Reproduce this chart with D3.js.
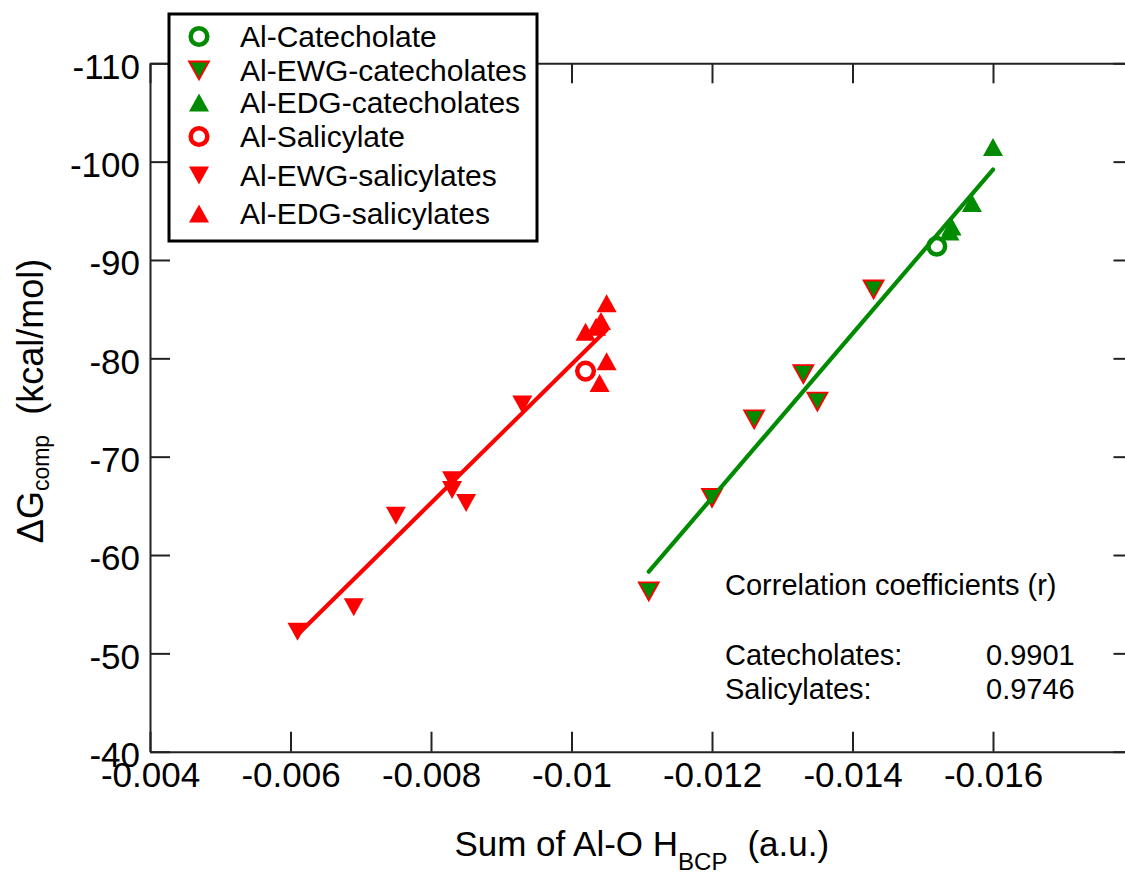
<!DOCTYPE html>
<html>
<head>
<meta charset="utf-8">
<script src="https://cdn.jsdelivr.net/npm/d3@7/dist/d3.min.js"></script>
<style>
  html, body { margin: 0; padding: 0; background: #fff; }
  svg { display: block; font-family: "Liberation Sans", Arial, Helvetica, sans-serif; }
</style>
</head>
<body>
<svg id="chart" width="1125" height="873"></svg>
<script>
// ---- data: x = sum of Al-O H_BCP (a.u.), y = ΔG_comp (kcal/mol) ----
const catX = [-0.0152];
const catY = [-91.4];

const ewgCatX = [-0.0111, -0.0120, -0.0126, -0.0133, -0.0135, -0.0143];
const ewgCatY = [-56.3, -65.8, -73.8, -78.4, -75.6, -87.0];

const edgCatX = [-0.01538, -0.01541, -0.0157, -0.0160];
const edgCatY = [-92.9, -93.4, -95.8, -101.5];

const salX = [-0.0102];
const salY = [-78.7];

const ewgSalX = [-0.0061, -0.0069, -0.0075, -0.0083, -0.0083, -0.0085, -0.0093];
const ewgSalY = [-52.2, -54.7, -64.0, -66.6, -67.6, -65.3, -75.3];

const edgSalX = [-0.0102, -0.01035, -0.01042, -0.0104, -0.0105, -0.0105];
const edgSalY = [-82.7, -83.2, -83.8, -77.5, -79.7, -85.6];

// linear fits (end points)
const catFitX = [-0.0111, -0.0160];
const catFitY = [-58.3, -99.2];
const salFitX = [-0.0061, -0.0105];
const salFitY = [-51.9, -82.9];

// axes
const xTicks = [-0.004, -0.006, -0.008, -0.010, -0.012, -0.014, -0.016, -0.018];
const xTickLabels = ["-0.004", "-0.006", "-0.008", "-0.01", "-0.012", "-0.014", "-0.016", ""];
const yTicks = [-40, -50, -60, -70, -80, -90, -100, -110];
const yTickLabels = ["-40", "-50", "-60", "-70", "-80", "-90", "-100", "-110"];

// legend and annotation text
const legendNames = ["Al-Catecholate", "Al-EWG-catecholates", "Al-EDG-catecholates",
                     "Al-Salicylate", "Al-EWG-salicylates", "Al-EDG-salicylates"];
const corrTitle = "Correlation coefficients (r)";
const corrNames = ["Catecholates:", "Salicylates:"];
const corrValues = ["0.9901", "0.9746"];

// ---- drawing ----
const GREEN = "#008b00", RED = "#ff0000", AXIS = "#222";
const svg = d3.select("#chart");
svg.append("rect").attr("width", 1125).attr("height", 873).attr("fill", "#fff");

const plotL = 150, plotR = 1133.5, plotT = 63.3, plotB = 751.7;
const x = d3.scaleLinear().domain([-0.004, -0.018]).range([plotL, plotR]);
const y = d3.scaleLinear().domain([-40, -110]).range([plotB, plotT]);

// marker shapes
const shapes = {
  up: "M-10,9L10,9L0,-9Z",
  down: "M-10,-9L10,-9L0,9Z"
};
const series = [
  { name: legendNames[0], xs: catX,    ys: catY,    shape: "circle", fill: "none", stroke: GREEN, sw: 4.5 },
  { name: legendNames[1], xs: ewgCatX, ys: ewgCatY, shape: "down",   fill: GREEN,  stroke: RED,   sw: 1.8 },
  { name: legendNames[2], xs: edgCatX, ys: edgCatY, shape: "up",     fill: GREEN,  stroke: "none", sw: 0 },
  { name: legendNames[3], xs: salX,    ys: salY,    shape: "circle", fill: "none", stroke: RED,   sw: 4.5 },
  { name: legendNames[4], xs: ewgSalX, ys: ewgSalY, shape: "down",   fill: RED,    stroke: "none", sw: 0 },
  { name: legendNames[5], xs: edgSalX, ys: edgSalY, shape: "up",     fill: RED,    stroke: "none", sw: 0 }
];

function drawMarker(g, s) {
  if (s.shape === "circle") {
    g.append("circle").attr("r", 8.3)
      .attr("fill", "none").attr("stroke", s.stroke).attr("stroke-width", s.sw);
  } else {
    g.append("path").attr("d", shapes[s.shape])
      .attr("fill", s.fill).attr("stroke", s.stroke).attr("stroke-width", s.sw)
      .attr("stroke-linejoin", "miter");
  }
}

// axes with inward ticks on all four sides
const fontTick = 35;
const gx = svg.append("g").attr("transform", `translate(0,${plotB})`)
  .call(d3.axisBottom(x).tickValues(xTicks).tickFormat((d, i) => xTickLabels[i])
        .tickSizeInner(-20).tickSizeOuter(0).tickPadding(10));
const gxTop = svg.append("g").attr("transform", `translate(0,${plotT})`)
  .call(d3.axisTop(x).tickValues(xTicks).tickFormat("").tickSizeInner(-20).tickSizeOuter(0));
const gy = svg.append("g").attr("transform", `translate(${plotL},0)`)
  .call(d3.axisLeft(y).tickValues(yTicks).tickFormat((d, i) => yTickLabels[i])
        .tickSizeInner(-20).tickSizeOuter(0).tickPadding(10));
const gyRight = svg.append("g").attr("transform", `translate(${plotR},0)`)
  .call(d3.axisRight(y).tickValues(yTicks).tickFormat("").tickSizeInner(-20).tickSizeOuter(0));

[gx, gxTop, gy, gyRight].forEach(g => {
  g.select(".domain").attr("stroke", AXIS).attr("stroke-width", 2);
  g.selectAll(".tick line").attr("stroke", AXIS).attr("stroke-width", 2);
  g.selectAll("text").attr("fill", "#000").attr("font-size", fontTick)
    .attr("font-family", "Liberation Sans, Arial, sans-serif");
});
gy.selectAll(".tick text").attr("dy", "0.42em");

// data markers
series.forEach(s => {
  const g = svg.append("g");
  s.xs.forEach((v, i) => {
    const m = g.append("g").attr("transform", `translate(${x(v)},${y(s.ys[i])})`);
    drawMarker(m, s);
  });
});

// fit lines
const line = d3.line().x(d => x(d[0])).y(d => y(d[1]));
[[catFitX, catFitY, GREEN], [salFitX, salFitY, RED]].forEach(([xs, ys, c]) => {
  svg.append("path").datum(xs.map((v, i) => [v, ys[i]]))
    .attr("d", line).attr("fill", "none").attr("stroke", c)
    .attr("stroke-width", 4.2).attr("stroke-linecap", "round");
});

// correlation annotation
const ann = svg.append("g").attr("font-size", 29).attr("fill", "#000");
ann.append("text").attr("x", 725).attr("y", 595).text(corrTitle);
corrNames.forEach((n, i) => {
  ann.append("text").attr("x", 725).attr("y", 665 + i * 34).text(n);
  ann.append("text").attr("x", 986).attr("y", 665 + i * 34).text(corrValues[i]);
});

// axis titles
const xt = svg.append("text").attr("x", (plotL + plotR) / 2).attr("y", 856)
  .attr("text-anchor", "middle").attr("font-size", 35);
xt.append("tspan").text("Sum of Al-O H");
xt.append("tspan").attr("font-size", 24).attr("dy", 14).text("BCP");
xt.append("tspan").attr("dy", -14).attr("dx", 20).text("(a.u.)");

const yt = svg.append("text").attr("transform", "translate(43,401) rotate(-90)")
  .attr("text-anchor", "middle").attr("font-size", 36);
yt.append("tspan").text("\u0394G");
yt.append("tspan").attr("font-size", 23).attr("dy", 6).text("comp");
yt.append("tspan").attr("dy", -6).attr("dx", 20).text("(kcal/mol)");

// legend
const lg = svg.append("g");
lg.append("rect").attr("x", 169).attr("y", 14).attr("width", 368).attr("height", 227)
  .attr("fill", "#fff").attr("stroke", "#000").attr("stroke-width", 3);
const legendBaselines = [47, 81, 113, 147, 186, 224];
series.forEach((s, i) => {
  const m = lg.append("g").attr("transform", `translate(199,${legendBaselines[i] - 10.5})`);
  drawMarker(m, s);
  lg.append("text").attr("x", 240).attr("y", legendBaselines[i])
    .attr("font-size", 30).attr("fill", "#000").text(s.name);
});
</script>
</body>
</html>
